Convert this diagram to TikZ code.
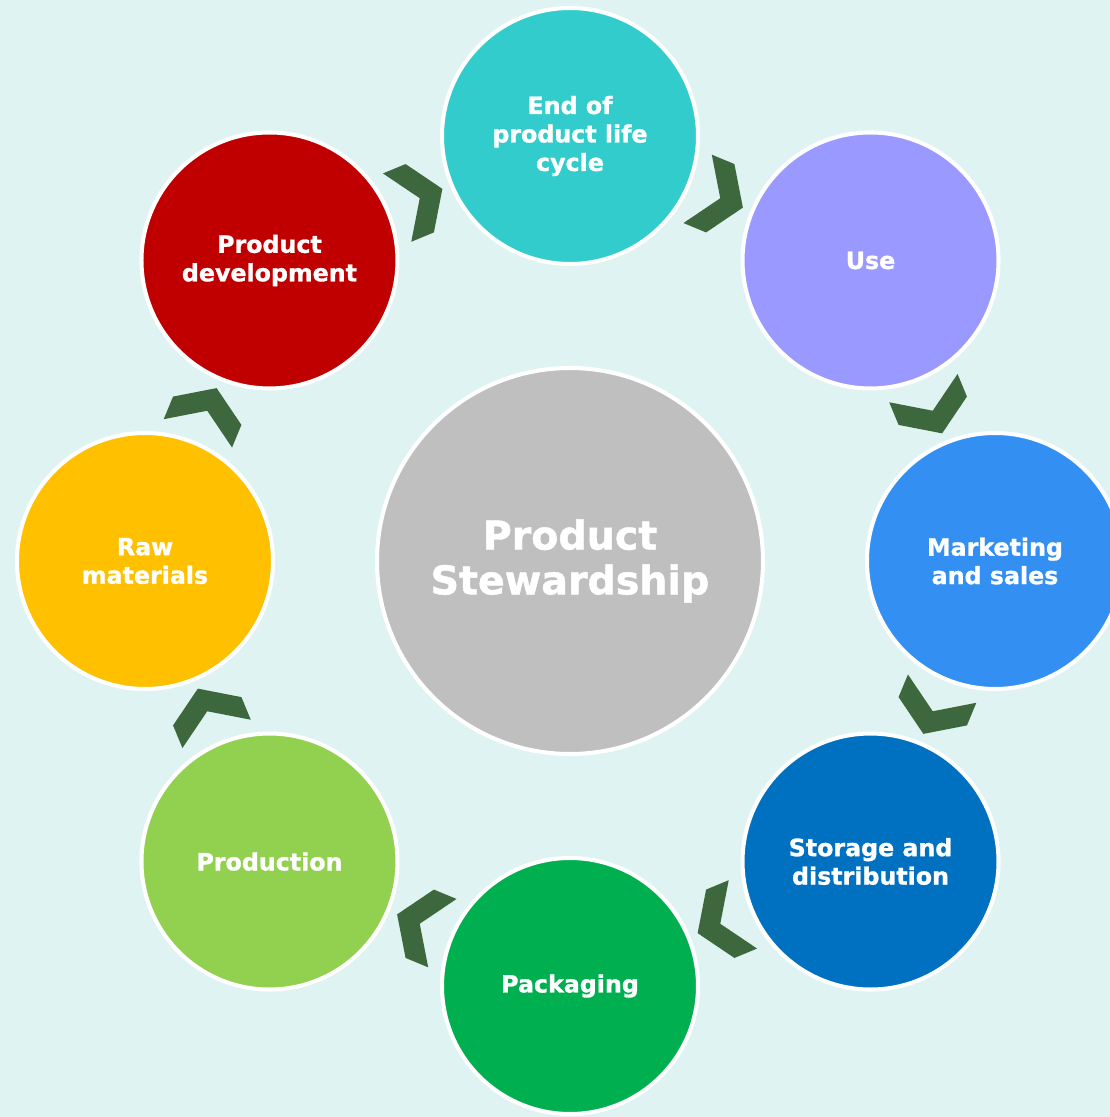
\documentclass[tikz,border=0pt]{standalone}
\usepackage{fontspec}
\setmainfont{DejaVu Sans}[BoldFeatures={FakeBold=1.2}]
\usetikzlibrary{calc}
\definecolor{bgcyan}{RGB}{223,243,243}
\definecolor{hubgray}{RGB}{191,191,191}
\definecolor{chevgreen}{RGB}{61,104,61}
\definecolor{eolcol}{RGB}{51,204,204}
\definecolor{usecol}{RGB}{153,153,255}
\definecolor{mktcol}{RGB}{51,143,242}
\definecolor{storecol}{RGB}{0,112,192}
\definecolor{packcol}{RGB}{0,176,80}
\definecolor{prodcol}{RGB}{146,208,80}
\definecolor{rawcol}{RGB}{255,192,0}
\definecolor{devcol}{RGB}{192,0,0}
\tikzstyle{stage}=[shape=circle,minimum size=5.12cm,inner sep=0,draw=white,line width=2.3pt,text=white,align=center,font=\bfseries\fontsize{13.5}{16.2}\selectfont]
\tikzstyle{hub}=[stage,minimum size=7.72cm,fill=hubgray,font=\bfseries\fontsize{22.5}{25.5}\selectfont]
\tikzstyle{chevron}=[fill=chevgreen]

\begin{document}
\begin{tikzpicture}
\fill[bgcyan] (-11.4,-11.12) rectangle (10.8,11.22);
\clip (-11.4,-11.12) rectangle (10.8,11.22);

\node[hub] (hub) at (0,0) {Product\\Stewardship};

\foreach \name/\ang/\col/\txt in {eol/90/eolcol/{End of\\product life\\cycle},
	use/45/usecol/{Use},
	mkt/0/mktcol/{Marketing\\and sales},
	store/-45/storecol/{Storage and\\distribution},
	pack/-90/packcol/{Packaging},
	prod/-135/prodcol/{Production},
	raw/180/rawcol/{Raw\\materials},
	dev/135/devcol/{Product\\development}}{
	\node[stage,fill=\col] (\name) at (\ang:8.5) {\txt};
}

% chevrons point clockwise, from one stage to the next
\foreach \a/\b/\rot in {raw/dev/67.5,dev/eol/22.5,eol/use/-22.5,use/mkt/-67.5,
	mkt/store/-112.5,store/pack/-157.5,pack/prod/157.5,prod/raw/112.5}{
	\fill[chevron,shift={($(\a)!0.5!(\b)$)},rotate=\rot]
		(-0.49,0.74)--(0,0.74)--(0.49,0)--(0,-0.74)--(-0.49,-0.74)--(0,0)--cycle;
}
\end{tikzpicture}
\end{document}
